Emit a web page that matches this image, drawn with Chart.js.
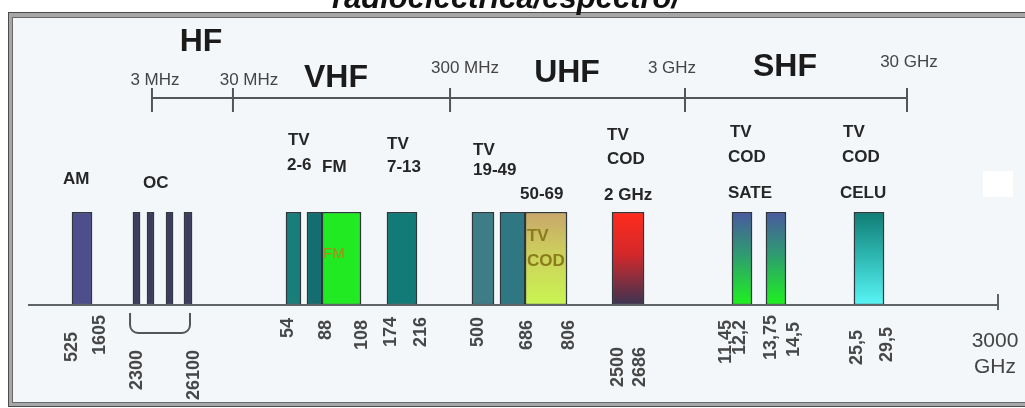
<!DOCTYPE html>
<html><head><meta charset="utf-8">
<script src="https://cdn.jsdelivr.net/npm/chart.js@4.4.1/dist/chart.umd.min.js"></script>
<style>html,body{margin:0;padding:0;background:#fff;overflow:hidden}</style>
</head><body>
<canvas id="c" width="1025" height="408"></canvas>
<script>
// ---------- data (x = position along the schematic spectrum strip, 0..100) ----------
const bandNames = ['AM','OC 1','OC 2','OC 3','OC 4','TV 2-6 a','TV 2-6 b','FM','TV 7-13','TV 19-49 a','TV 19-49 b','TV COD 50-69','TV COD 2 GHz','TV COD SATE a','TV COD SATE b','TV COD CELU'];
const bandStart = [4.54,10.82,12.27,14.23,16.08,26.60,28.76,30.31,37.01,45.77,48.66,51.24,60.21,72.58,76.08,85.15];
const bandEnd   = [6.60,11.55,12.99,14.95,16.91,28.14,30.31,34.33,40.10,48.04,51.24,55.57,63.51,74.64,78.14,88.25];
const bandTopColor    = ['#4e4e8c','#3c3c5f','#3c3c5f','#3c3c5f','#3c3c5f','#197d79','#146e71','#22ea22','#137b77','#3e7c86','#2f7883','#c8a66c','#ff2b1c','#4a58a0','#4a58a0','#107c74'];
const bandMidColor    = [null,null,null,null,null,null,null,null,null,null,null,'#cdd05c','#d4282a','#2f9a72','#2f9a72','#2cb4ae'];
const bandBottomColor = ['#4e4e8c','#3c3c5f','#3c3c5f','#3c3c5f','#3c3c5f','#197d79','#146e71','#22ea22','#137b77','#3e7c86','#2f7883','#c9f552','#3b3452','#1ef21e','#1ef21e','#58f6f6'];

const freqLabels = ['525','1605','2300','26100','54','88','108','174','216','500','686','806','2500','2686','11,45','12,2','13,75','14,5','25,5','29,5'];
const freqPos    = [4.54,7.42,11.24,17.11,26.80,30.72,34.43,37.42,40.52,46.39,51.44,55.77,60.82,63.09,71.96,73.40,76.60,78.97,85.46,88.56];

const edgeLabels = ['3 MHz','30 MHz','300 MHz','3 GHz','30 GHz'];
const edgePos    = [12.78,21.13,43.51,67.73,90.62];
const edgeLabelPos = [13.09,22.78,45.05,66.39,90.82];

const bandGroups   = ['HF','VHF','UHF','SHF'];
const bandGroupPos = [17.84,31.75,55.57,78.04];

const serviceLabels   = ['AM','OC','TV','2-6','FM','TV','7-13','TV','19-49','50-69','TV','COD','2 GHz','TV','COD','SATE','TV','COD','CELU'];
const serviceLabelPos = [3.61,11.86,26.80,26.70,30.31,37.01,37.01,45.88,45.88,50.72,59.69,59.69,59.38,72.37,72.16,72.16,84.02,83.92,83.71];

const innerLabels   = ['FM','TV','COD'];
const innerLabelPos = [30.41,51.44,51.44];

const endLabel = ['3000','GHz'];
const endLabelPos = 99.69;
const ocGroup = [10.52,16.70];
const titleText = 'radioeléctrica/espectro/';

// ---------- layout (pixel offsets, styling only) ----------
const topAxisRise = 114;
const edgeLabelRise = [18,18,30,30,36];
const bandGroupDy = [-56,-20,-25,-31];
const serviceLabelDy = [-33,-29,-72,-47,-45,-68,-45,-62,-42,-18,-77,-53,-17,-80,-55,-19,-80,-55,-19];
const innerLabelDy = [42,24,49];
const freqLabelDrop = [27,10,45,45,13,15,15,12,12,12,15,15,42,42,15,15,10,17,25,22];
const FONT = '"Liberation Sans", Arial, sans-serif';

const decor = {
  id:'decor',
  beforeDraw(chart){
    const ctx = chart.ctx, W = chart.width, H = chart.height;
    ctx.save();
    ctx.fillStyle = '#ffffff'; ctx.fillRect(0,0,W,H);
    ctx.fillStyle = '#4c4c4c'; ctx.fillRect(8,12,W,H-13);
    ctx.fillStyle = '#a6a6a6'; ctx.fillRect(9,13,W,H-15);
    ctx.fillStyle = '#6a6a6a'; ctx.fillRect(12,17,W,H-22);
    ctx.fillStyle = '#f3f7fa'; ctx.fillRect(13,18,W,H-24);
    ctx.fillStyle = '#111';
    ctx.font = 'italic bold 31px ' + FONT;
    ctx.textAlign = 'left'; ctx.textBaseline = 'alphabetic';
    ctx.fillText(titleText, 332, 8);
    ctx.restore();
  },
  afterDatasetsDraw(chart){
    const ctx = chart.ctx, a = chart.chartArea, xs = chart.scales.x;
    const X = v => xs.getPixelForValue(v);
    ctx.save();
    // baseline
    ctx.strokeStyle = '#5f6466'; ctx.lineWidth = 2;
    ctx.beginPath(); ctx.moveTo(X(0), a.bottom); ctx.lineTo(X(100), a.bottom); ctx.stroke();
    ctx.beginPath(); ctx.moveTo(X(100), a.bottom-11); ctx.lineTo(X(100), a.bottom+5); ctx.stroke();
    // top band axis
    const y0 = a.top - topAxisRise;
    ctx.strokeStyle = '#555'; ctx.lineWidth = 2;
    ctx.beginPath(); ctx.moveTo(X(edgePos[0]), y0); ctx.lineTo(X(edgePos[edgePos.length-1]), y0); ctx.stroke();
    edgePos.forEach(p => { ctx.beginPath(); ctx.moveTo(X(p), y0-10); ctx.lineTo(X(p), y0+14); ctx.stroke(); });
    ctx.fillStyle = '#454545'; ctx.font = '17px ' + FONT;
    ctx.textAlign = 'center'; ctx.textBaseline = 'middle';
    edgeLabels.forEach((t,i) => ctx.fillText(t, X(edgeLabelPos[i]), y0 - edgeLabelRise[i]));
    ctx.fillStyle = '#1b1b1b'; ctx.font = 'bold 32px ' + FONT;
    bandGroups.forEach((t,i) => ctx.fillText(t, X(bandGroupPos[i]), y0 + bandGroupDy[i]));
    // service labels
    ctx.fillStyle = '#262626'; ctx.font = 'bold 17px ' + FONT; ctx.textAlign = 'left';
    serviceLabels.forEach((t,i) => ctx.fillText(t, X(serviceLabelPos[i]), a.top + serviceLabelDy[i]));
    // inner labels
    ctx.fillStyle = '#b0861c'; ctx.font = '15px ' + FONT;
    ctx.fillText(innerLabels[0], X(innerLabelPos[0]), a.top + innerLabelDy[0]);
    ctx.fillStyle = '#8a7c1c'; ctx.font = 'bold 17px ' + FONT;
    for (let i=1;i<innerLabels.length;i++) ctx.fillText(innerLabels[i], X(innerLabelPos[i]), a.top + innerLabelDy[i]);
    // frequency labels (rotated)
    ctx.fillStyle = '#474747'; ctx.font = 'bold 18px ' + FONT;
    freqLabels.forEach((t,i) => {
      ctx.save();
      ctx.translate(X(freqPos[i]), a.bottom + freqLabelDrop[i]);
      ctx.rotate(-Math.PI/2);
      ctx.textAlign = 'right'; ctx.textBaseline = 'middle';
      ctx.fillText(t, 0, 0);
      ctx.restore();
    });
    // end label
    ctx.fillStyle = '#444'; ctx.font = '21px ' + FONT; ctx.textAlign = 'center';
    ctx.fillText(endLabel[0], X(endLabelPos), a.bottom + 36);
    ctx.fillText(endLabel[1], X(endLabelPos), a.bottom + 62);
    // OC bracket
    const xl = X(ocGroup[0]), xr = X(ocGroup[1]), yt = a.bottom + 8, yb = a.bottom + 28, r = 8;
    ctx.strokeStyle = '#555'; ctx.lineWidth = 2;
    ctx.beginPath(); ctx.moveTo(xl, yt); ctx.lineTo(xl, yb - r); ctx.arcTo(xl, yb, xl + r, yb, r);
    ctx.lineTo(xr - r, yb); ctx.arcTo(xr, yb, xr, yb - r, r); ctx.lineTo(xr, yt); ctx.stroke();
    // small white patch
    ctx.fillStyle = '#ffffff'; ctx.fillRect(983, 171, 30, 26);
    ctx.restore();
  }
};

new Chart(document.getElementById('c'), {
  type: 'bar',
  data: {
    labels: ['Espectro'],
    datasets: [{
      label: 'Bandas',
      data: bandStart.map((s,i) => ({x:[s, bandEnd[i]], y:'Espectro', name: bandNames[i]})),
      backgroundColor: (c) => {
        const i = c.dataIndex, area = c.chart.chartArea;
        if (i === undefined) return '#888';
        if (!area) return bandTopColor[i];
        const g = c.chart.ctx.createLinearGradient(0, area.top, 0, area.bottom);
        g.addColorStop(0, bandTopColor[i]);
        if (bandMidColor[i]) g.addColorStop(0.45, bandMidColor[i]);
        g.addColorStop(1, bandBottomColor[i]);
        return g;
      },
      borderColor: 'rgba(25,35,40,0.9)',
      borderWidth: 1.5,
      borderSkipped: false,
      barPercentage: 1,
      categoryPercentage: 1
    }]
  },
  options: {
    indexAxis: 'y',
    responsive: false,
    animation: false,
    events: [],
    layout: { padding: { left: 28, right: 27, top: 212, bottom: 103 } },
    scales: {
      x: { type: 'linear', min: 0, max: 100, display: false },
      y: { type: 'category', display: false }
    },
    plugins: { legend: { display: false }, tooltip: { enabled: false } }
  },
  plugins: [decor]
});
</script>
</body></html>
